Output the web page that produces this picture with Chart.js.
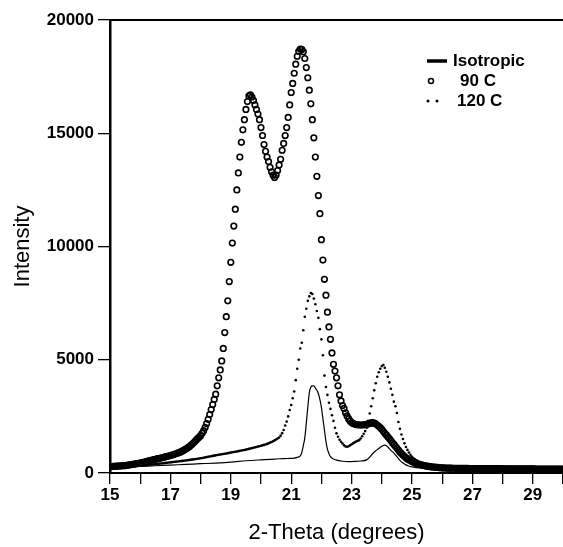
<!DOCTYPE html>
<html><head><meta charset="utf-8">
<script src="https://cdn.jsdelivr.net/npm/chart.js@4"></script>
<style>html,body{margin:0;padding:0;background:#fff}</style>
</head><body>
<canvas id="c" width="563" height="547"></canvas>
<script>
const theta = [
15,15.05,15.1,15.15,15.2,15.25,15.3,15.35,15.4,15.45,15.5,15.55,15.6,15.65,15.7,15.75,15.8,15.85,15.9,15.95,
16,16.05,16.1,16.15,16.2,16.25,16.3,16.35,16.4,16.45,16.5,16.55,16.6,16.65,16.7,16.75,16.8,16.85,16.9,16.95,
17,17.05,17.1,17.15,17.2,17.25,17.3,17.35,17.4,17.45,17.5,17.55,17.6,17.65,17.7,17.75,17.8,17.85,17.9,17.95,
18,18.05,18.1,18.15,18.2,18.25,18.3,18.35,18.4,18.45,18.5,18.55,18.6,18.65,18.7,18.75,18.8,18.85,18.9,18.95,
19,19.05,19.1,19.15,19.2,19.25,19.3,19.35,19.4,19.45,19.5,19.55,19.6,19.65,19.7,19.75,19.8,19.85,19.9,19.95,
20,20.05,20.1,20.15,20.2,20.25,20.3,20.35,20.4,20.45,20.5,20.55,20.6,20.65,20.7,20.75,20.8,20.85,20.9,20.95,
21,21.05,21.1,21.15,21.2,21.25,21.3,21.35,21.4,21.45,21.5,21.55,21.6,21.65,21.7,21.75,21.8,21.85,21.9,21.95,
22,22.05,22.1,22.15,22.2,22.25,22.3,22.35,22.4,22.45,22.5,22.55,22.6,22.65,22.7,22.75,22.8,22.85,22.9,22.95,
23,23.05,23.1,23.15,23.2,23.25,23.3,23.35,23.4,23.45,23.5,23.55,23.6,23.65,23.7,23.75,23.8,23.85,23.9,23.95,
24,24.05,24.1,24.15,24.2,24.25,24.3,24.35,24.4,24.45,24.5,24.55,24.6,24.65,24.7,24.75,24.8,24.85,24.9,24.95,
25,25.05,25.1,25.15,25.2,25.25,25.3,25.35,25.4,25.45,25.5,25.55,25.6,25.65,25.7,25.75,25.8,25.85,25.9,25.95,
26,26.05,26.1,26.15,26.2,26.25,26.3,26.35,26.4,26.45,26.5,26.55,26.6,26.65,26.7,26.75,26.8,26.85,26.9,26.95,
27,27.05,27.1,27.15,27.2,27.25,27.3,27.35,27.4,27.45,27.5,27.55,27.6,27.65,27.7,27.75,27.8,27.85,27.9,27.95,
28,28.05,28.1,28.15,28.2,28.25,28.3,28.35,28.4,28.45,28.5,28.55,28.6,28.65,28.7,28.75,28.8,28.85,28.9,28.95,
29,29.05,29.1,29.15,29.2,29.25,29.3,29.35,29.4,29.45,29.5,29.55,29.6,29.65,29.7,29.75,29.8,29.85,29.9,29.95,
30];

const intensity90C = [
280,285,290,295,300,305,310,315,320,325,330,340,350,360,370,380,395,405,420,430,
440,455,470,485,500,520,540,560,575,590,605,620,635,650,665,680,700,720,735,750,
770,790,810,835,860,885,910,940,975,1010,1050,1090,1140,1190,1250,1310,1380,1450,1520,1580,
1650,1750,1870,2010,2180,2370,2580,2800,3020,3250,3480,3850,4200,4550,4950,5500,6200,6900,7600,8450,
9300,10150,10900,11650,12500,13250,13950,14600,15150,15600,16050,16400,16650,16700,16600,16450,16250,16050,15850,15600,
15250,14900,14500,14200,13950,13750,13500,13300,13150,13050,13150,13350,13600,13850,14250,14550,14900,15250,15700,16250,
16800,17200,17650,18050,18400,18620,18720,18700,18600,18300,17900,17450,16900,16300,15600,14800,13950,13100,12250,11450,
10300,9400,8550,7850,7100,6450,5900,5300,4800,4500,4200,3850,3450,3180,2980,2850,2660,2520,2400,2300,
2230,2190,2160,2140,2130,2120,2120,2120,2130,2140,2150,2170,2190,2210,2220,2200,2170,2120,2060,2000,
1930,1840,1750,1680,1600,1520,1430,1340,1260,1180,1100,1010,930,860,790,730,670,620,580,550,
510,480,450,425,400,380,360,345,330,315,300,290,280,272,265,258,250,245,238,232,
225,222,220,218,216,214,212,210,209,208,207,206,205,204,203,202,201,200,199,199,
198,198,197,197,196,196,195,195,194,194,193,193,192,192,191,191,190,190,189,189,
188,188,187,187,186,186,185,185,184,184,183,183,182,182,181,181,180,180,179,179,
178,178,177,177,176,176,175,175,174,174,173,173,172,172,171,171,170,170,170,170,
170];

const intensity120C = [
250,254,258,262,266,270,274,278,282,286,290,294,298,302,306,310,314,318,322,326,
330,336,342,348,354,360,366,372,378,384,390,398,406,414,422,430,438,446,454,462,
470,478,486,494,502,510,518,526,534,542,550,560,570,580,590,600,610,620,630,640,
650,663,676,689,702,715,728,741,754,767,780,792,804,816,828,840,852,864,876,888,
900,913,926,939,952,965,978,991,1004,1017,1030,1047,1064,1081,1098,1115,1132,1149,1166,1183,
1200,1220,1240,1260,1285,1310,1340,1370,1400,1440,1480,1520,1570,1650,1760,1900,2100,2270,2500,2780,
3000,3300,3600,4100,4600,5000,5500,5750,6300,6900,7250,7600,7800,7950,7900,7700,7450,7150,6850,6350,
5900,5200,4300,3800,3450,3100,2830,2550,2300,2000,1750,1600,1470,1380,1300,1220,1170,1160,1180,1220,
1270,1310,1350,1390,1420,1450,1520,1620,1730,1850,2000,2300,2630,2950,3300,3650,3960,4250,4450,4600,
4720,4770,4650,4470,4250,4000,3720,3450,3150,2950,2650,2250,1950,1700,1500,1310,1150,1020,900,800,
720,650,600,560,500,460,420,395,370,350,330,315,300,290,280,270,262,255,245,235,
225,220,216,212,209,206,203,200,198,196,194,192,190,188,186,185,184,183,182,181,
180,180,179,179,178,178,177,177,176,176,175,175,174,174,173,173,172,172,171,171,
170,170,169,169,168,168,167,167,166,166,165,165,164,164,163,163,162,162,161,161,
160,160,160,160,160,160,160,160,160,160,160,160,160,160,160,160,160,160,160,160,
160];

const isoTheta = [15,15.5,16,16.5,17,17.5,18,18.5,19,19.5,20,20.3,20.6,20.9,21.1,21.2,21.3,21.35,21.4,21.45,
21.5,21.55,21.6,21.65,21.7,21.75,21.8,21.85,21.9,21.95,22,22.05,22.1,22.15,22.2,22.25,22.3,22.4,22.5,22.7,
22.9,23.1,23.3,23.5,23.6,23.7,23.8,23.9,24,24.1,24.2,24.3,24.4,24.5,24.6,24.7,24.8,24.9,25,25.3,
25.6,26,27,28,29,30];
const isoIntensity = [230,260,290,320,350,380,410,440,480,540,580,600,630,640,660,690,760,900,1200,1550,
2200,2900,3550,3800,3850,3850,3750,3650,3500,3250,2900,2400,1900,1400,1050,850,720,620,570,520,
500,510,530,580,700,860,980,1080,1180,1230,1150,1000,880,720,560,440,360,300,270,220,
200,180,170,160,150,150];

const seriesNames = ['Isotropic', '90 C', '120 C'];
const xLabelTicks = [15,17,19,21,23,25,27,29];
const yTickValues = [0,5000,10000,15000,20000];
const xTitle = '2-Theta (degrees)';
const yTitle = 'Intensity';

const FONT = '"Liberation Sans", Arial, Helvetica, sans-serif';

const decor = {
  id: 'decor',
  afterDraw(chart) {
    const ctx = chart.ctx, a = chart.chartArea;
    ctx.save();
    ctx.strokeStyle = '#000';
    ctx.lineWidth = 2;
    ctx.beginPath();
    ctx.moveTo(a.left - 1, a.top);
    ctx.lineTo(a.right, a.top);
    ctx.stroke();
    // legend
    ctx.font = 'bold 17px ' + FONT;
    ctx.fillStyle = '#000';
    ctx.textBaseline = 'middle';
    ctx.textAlign = 'left';
    ctx.lineWidth = 3.5;
    ctx.beginPath(); ctx.moveTo(427, 61); ctx.lineTo(447, 61); ctx.stroke();
    ctx.fillText(seriesNames[0], 453, 61);
    ctx.lineWidth = 1.5;
    ctx.beginPath(); ctx.arc(431, 81, 2.5, 0, Math.PI * 2); ctx.stroke();
    ctx.fillText(seriesNames[1], 460, 81);
    ctx.beginPath(); ctx.arc(428, 101, 1.5, 0, Math.PI * 2); ctx.fill();
    ctx.beginPath(); ctx.arc(437, 101, 1.5, 0, Math.PI * 2); ctx.fill();
    ctx.fillText(seriesNames[2], 457, 101);
    ctx.restore();
  }
};

new Chart(document.getElementById('c'), {
  type: 'scatter',
  data: {
    datasets: [
      {
        label: seriesNames[1],
        data: theta.map((t, i) => ({ x: t, y: intensity90C[i] })),
        showLine: false,
        pointStyle: 'circle',
        pointRadius: 2.8,
        pointBorderWidth: 1.6,
        pointBorderColor: '#000',
        pointBackgroundColor: 'rgba(0,0,0,0)'
      },
      {
        label: seriesNames[2],
        data: theta.map((t, i) => ({ x: t, y: intensity120C[i] })),
        showLine: false,
        pointStyle: 'circle',
        pointRadius: 1.3,
        pointBorderWidth: 0,
        pointBackgroundColor: '#000'
      },
      {
        label: seriesNames[0],
        data: isoTheta.map((t, i) => ({ x: t, y: isoIntensity[i] })),
        showLine: true,
        borderColor: '#000',
        borderWidth: 1.2,
        pointRadius: 0,
        cubicInterpolationMode: 'monotone'
      }
    ]
  },
  options: {
    responsive: false,
    animation: false,
    devicePixelRatio: 1,
    layout: { autoPadding: false, padding: { top: 20, right: 0, left: 0, bottom: 0 } },
    plugins: { legend: { display: false }, tooltip: { enabled: false } },
    scales: {
      x: {
        type: 'linear', min: 15, max: 30,
        afterFit(s) { s.height = 74; s.paddingRight = 0; s.paddingLeft = 0; },
        afterBuildTicks(s) { s.ticks = []; for (let v = 15; v <= 30; v++) s.ticks.push({ value: v }); },
        ticks: {
          autoSkip: false, maxRotation: 0, padding: 1,
          color: '#000', font: { family: FONT, size: 17, weight: 'bold' },
          callback: v => xLabelTicks.includes(v) ? String(v) : ''
        },
        grid: { drawOnChartArea: false, color: '#000', lineWidth: 1.3, tickLength: 11 },
        border: { color: '#000', width: 2 },
        title: { display: true, text: xTitle, color: '#000', font: { family: FONT, size: 22 }, padding: { top: 4, bottom: 1 } }
      },
      y: {
        min: 0, max: 20000,
        afterFit(s) { s.width = 110; s.paddingTop = 0; s.paddingBottom = 0; },
        afterBuildTicks(s) { s.ticks = yTickValues.map(v => ({ value: v })); },
        ticks: { color: '#000', font: { family: FONT, size: 17, weight: 'bold' }, padding: 4, callback: v => String(v) },
        grid: { drawOnChartArea: false, color: '#000', lineWidth: 1.3, tickLength: 12 },
        border: { color: '#000', width: 2.5 },
        title: { display: true, text: yTitle, color: '#000', font: { family: FONT, size: 22 }, padding: { top: 10, bottom: 0 } }
      }
    }
  },
  plugins: [decor]
});
</script>
</body></html>
